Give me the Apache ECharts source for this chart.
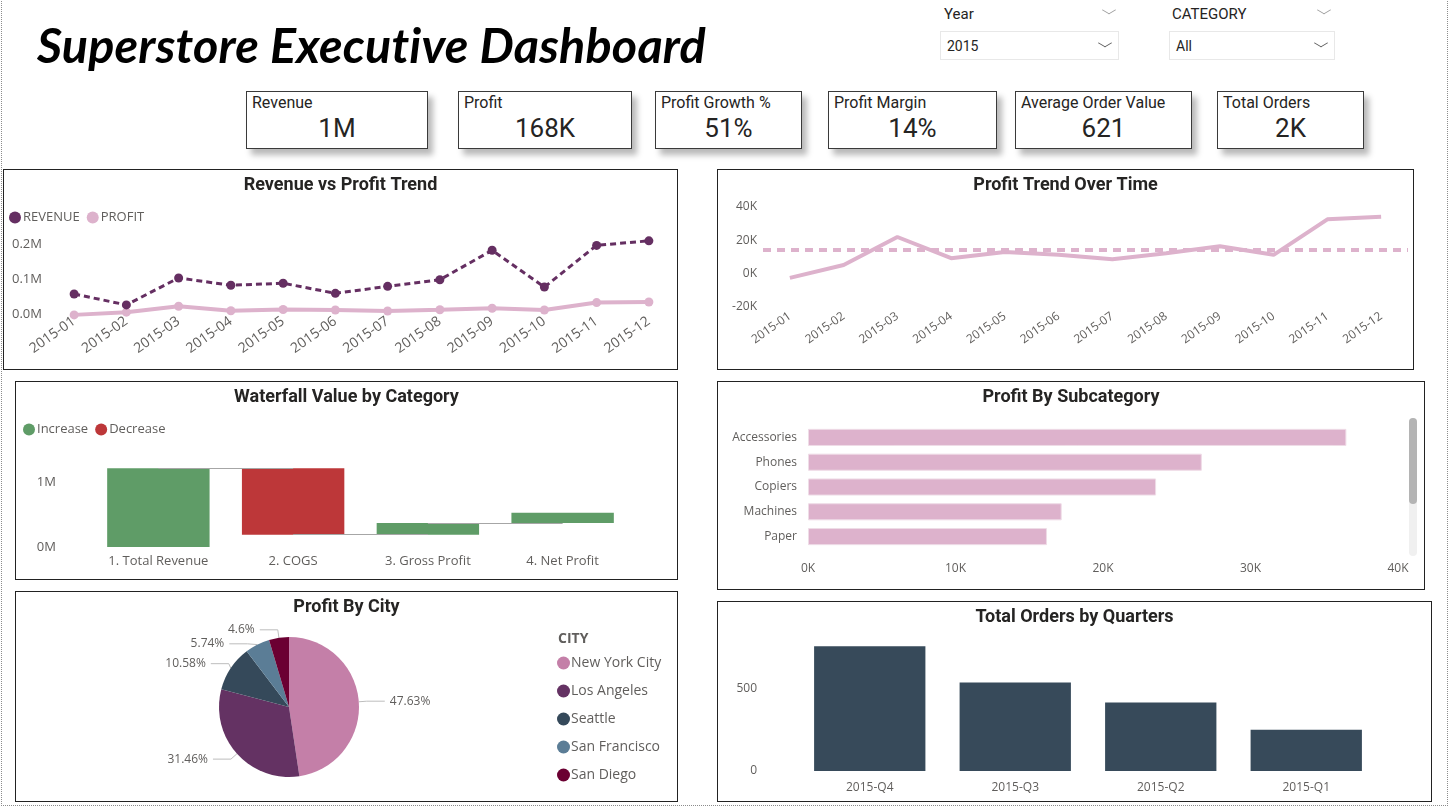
<!DOCTYPE html>
<html>
<head>
<meta charset="utf-8">
<title>Superstore Executive Dashboard</title>
<script src="https://cdn.jsdelivr.net/npm/echarts@6/dist/echarts.min.js"></script>
<style>
    *{margin:0;padding:0;box-sizing:border-box;}
    body{width:1449px;height:808px;overflow:hidden;background:#fff;position:relative;font-family:'Roboto',sans-serif;color:#252423;}
    .page{position:absolute;left:1px;top:-2px;width:1447px;height:808px;border:1px dotted #8c8c8c;}
    h1{position:absolute;left:37px;top:15px;font:italic bold 48.5px 'Lato',sans-serif;color:#000;white-space:nowrap;letter-spacing:0.2px;}
    .card{position:absolute;top:91px;height:58px;border:1px solid #3a3a3a;background:#fff;box-shadow:5px 6px 6px rgba(0,0,0,.28);}
    .card .lbl{position:absolute;left:5px;top:1px;font-size:16px;white-space:nowrap;}
    .card .val{position:absolute;left:0;right:0;top:21px;text-align:center;font-size:26px;}
    .slbl{position:absolute;top:5px;font-size:15px;}
    .sbox{position:absolute;top:31px;height:29px;border:1px solid #e8e8e8;font-size:14px;padding:6px 0 0 6px;}
    .chev{position:absolute;width:10px;height:10px;border-right:1.2px solid #555;border-bottom:1.2px solid #555;transform:scaleY(.6) rotate(45deg);}
    .chev.light{border-color:#9a9a9a;}
    .panel{position:absolute;border:1.5px solid #222;background:#fff;}
    .chart{position:absolute;left:0;top:0;right:0;bottom:0;}
    .track{position:absolute;left:1409px;top:418px;width:8px;height:138px;background:#f0f0f0;border-radius:4px;}
    .thumb{position:absolute;left:1409px;top:418px;width:8px;height:86px;background:#b4b4b4;border-radius:4px;}
</style>
</head>
<body>
<div class="page"></div>
<h1>Superstore Executive Dashboard</h1>

<div class="slbl" style="left:944px">Year</div>
<div class="chev light" style="left:1104px;top:5px"></div>
<div class="sbox" style="left:940px;width:179px">2015</div>
<div class="chev" style="left:1100px;top:38px"></div>
<div class="slbl" style="left:1172px">CATEGORY</div>
<div class="chev light" style="left:1319px;top:5px"></div>
<div class="sbox" style="left:1169px;width:166px">All</div>
<div class="chev" style="left:1316px;top:38px"></div>

<div id="cards"></div>

<div class="panel" style="left:3px;top:169px;width:675px;height:201px"><div class="chart" id="trend"></div></div>
<div class="panel" style="left:717px;top:169px;width:697px;height:201px"><div class="chart" id="profitTrend"></div></div>
<div class="panel" style="left:15px;top:381px;width:663px;height:199px"><div class="chart" id="waterfall"></div></div>
<div class="panel" style="left:717px;top:381px;width:708px;height:209px"><div class="chart" id="subcat"></div></div>
<div class="panel" style="left:15px;top:591px;width:663px;height:211px"><div class="chart" id="city"></div></div>
<div class="panel" style="left:717px;top:601px;width:715px;height:201px"><div class="chart" id="quarters"></div></div>
<div class="track"></div>
<div class="thumb"></div>

<script>
    // ---- data ----
    let kpiNames = ['Revenue', 'Profit', 'Profit Growth %', 'Profit Margin', 'Average Order Value', 'Total Orders'];
    let kpiValues = ['1M', '168K', '51%', '14%', '621', '2K'];

    let months = ['2015-01', '2015-02', '2015-03', '2015-04', '2015-05', '2015-06',
        '2015-07', '2015-08', '2015-09', '2015-10', '2015-11', '2015-12'];
    let revenueK = [57, 26, 103, 82, 88, 59, 79, 98, 182, 77, 196, 209];
    let profitK = [-2.5, 5.2, 22, 9.3, 13, 11.3, 8.7, 12.2, 16.5, 11.3, 32.6, 34.2];

    let steps = ['1. Total Revenue', '2. COGS', '3. Gross Profit', '4. Net Profit'];
    let stepChangeM = [1.22, -1.03, 0.18, 0.16];

    let subcategories = ['Accessories', 'Phones', 'Copiers', 'Machines', 'Paper'];
    let subcategoryProfitK = [36.5, 26.7, 23.6, 17.2, 16.2];

    let cities = ['New York City', 'Los Angeles', 'Seattle', 'San Francisco', 'San Diego'];
    let cityShare = [47.63, 31.46, 10.58, 5.74, 4.6];

    let quarters = ['2015-Q4', '2015-Q3', '2015-Q2', '2015-Q1'];
    let quarterOrders = [756, 537, 415, 250];

    // ---- kpi cards ----
    let cardLayout = [[246, 182], [458, 174], [655, 147], [828, 169], [1015, 177], [1217, 147]];
    let cardsHtml = '';
    kpiNames.forEach((name, i) => {
        cardsHtml += `<div class="card" style="left:${cardLayout[i][0]}px;width:${cardLayout[i][1]}px">
            <div class="lbl">${name}</div><div class="val">${kpiValues[i]}</div></div>`;
    });
    document.getElementById('cards').innerHTML = cardsHtml;

    // ---- shared styles ----
    const grey = '#605E5C';
    const pink = '#DDB2CC';
    const titleStyle = {fontFamily: 'Roboto', fontWeight: 'bold', fontSize: 18, color: '#252423'};
    const axisText = {color: grey, fontSize: 12, fontFamily: 'Open Sans'};
    function title(text) {
        return {text, left: 'center', top: 1, textStyle: titleStyle};
    }

    // Revenue vs Profit Trend
    let trend = echarts.init(document.getElementById('trend'));
    trend.setOption({
        animation: false,
        textStyle: {fontFamily: 'Open Sans'},
        title: title('Revenue vs Profit Trend'),
        legend: {
            left: 0, top: 36, icon: 'circle', itemWidth: 12, itemHeight: 12, itemGap: 7,
            textStyle: {color: grey, fontSize: 13, fontFamily: 'Open Sans', padding: [0, 0, 0, -3]},
            data: ['REVENUE', 'PROFIT']
        },
        grid: {left: 44, right: 2, top: 67, bottom: 55},
        xAxis: {
            type: 'category', data: months,
            axisLine: {show: false}, axisTick: {show: false},
            axisLabel: Object.assign({}, axisText, {rotate: 35, margin: 6, fontSize: 14})
        },
        yAxis: {
            type: 'value', min: 0, max: 220, interval: 100,
            splitLine: {show: false},
            axisLabel: Object.assign({}, axisText, {
                margin: 6, fontSize: 13,
                formatter: v => v % 100 === 0 ? (v / 1000).toFixed(1) + 'M' : ''
            })
        },
        series: [
            {
                name: 'PROFIT', type: 'line', data: profitK, clip: false,
                symbol: 'circle', symbolSize: 9,
                itemStyle: {color: pink},
                lineStyle: {color: pink, width: 4}
            },
            {
                name: 'REVENUE', type: 'line', data: revenueK, clip: false,
                symbol: 'circle', symbolSize: 9,
                itemStyle: {color: '#652F62'},
                lineStyle: {color: '#652F62', width: 3, type: [6, 4]}
            }
        ]
    });

    // Profit Trend Over Time
    let profitTrend = echarts.init(document.getElementById('profitTrend'));
    profitTrend.setOption({
        animation: false,
        title: title('Profit Trend Over Time'),
        grid: {left: 45, right: 5, top: 37, bottom: 62},
        xAxis: {
            type: 'category', data: months,
            axisLine: {show: false}, axisTick: {show: false},
            axisLabel: Object.assign({}, axisText, {rotate: 35, margin: 8})
        },
        yAxis: {
            type: 'value', min: -20, max: 40, interval: 20,
            splitLine: {show: false},
            axisLabel: Object.assign({}, axisText, {margin: 6, formatter: v => v + 'K'})
        },
        series: [{
            type: 'line', data: profitK, symbol: 'none',
            lineStyle: {color: pink, width: 4},
            markLine: {
                silent: true, symbol: 'none',
                label: {show: false},
                lineStyle: {color: pink, width: 4, type: [8, 6]},
                data: [{type: 'average'}]
            }
        }]
    });

    // Waterfall
    let base = [], inc = [], dec = [], levels = [];
    let cum = 0;
    stepChangeM.forEach(c => {
        if (c >= 0) {
            base.push(cum); inc.push(c); dec.push('-');
            cum += c;
        } else {
            cum += c;
            base.push(cum); inc.push('-'); dec.push(-c);
        }
        levels.push(cum);
    });
    let connectors = [];
    for (let i = 0; i < steps.length - 1; i++) {
        connectors.push([{coord: [i, levels[i]]}, {coord: [i + 1, levels[i]]}]);
    }
    let waterfall = echarts.init(document.getElementById('waterfall'));
    waterfall.setOption({
        animation: false,
        title: title('Waterfall Value by Category'),
        legend: {
            left: 2, top: 36, icon: 'circle', itemWidth: 12, itemHeight: 12, itemGap: 7,
            textStyle: {color: grey, fontSize: 13, fontFamily: 'Open Sans', padding: [0, 0, 0, -3]},
            data: ['Increase', 'Decrease']
        },
        grid: {left: 75, right: 47, top: 81, bottom: 32},
        xAxis: {
            type: 'category', data: steps,
            axisLine: {show: false}, axisTick: {show: false},
            axisLabel: Object.assign({}, axisText, {margin: 8, fontSize: 13})
        },
        yAxis: {
            type: 'value', min: 0, max: 1.3, interval: 1,
            splitLine: {show: false},
            axisLabel: Object.assign({}, axisText, {margin: 35, fontSize: 13, formatter: v => v % 1 === 0 ? v + 'M' : ''})
        },
        series: [
            {
                name: 'base', type: 'bar', stack: 'w', data: base, barWidth: '76%',
                itemStyle: {color: 'transparent'}, silent: true,
                markLine: {
                    silent: true, symbol: 'none', label: {show: false},
                    lineStyle: {color: '#a6a6a6', width: 1, type: 'solid'},
                    data: connectors
                }
            },
            {name: 'Increase', type: 'bar', stack: 'w', data: inc, itemStyle: {color: '#5F9C67'}},
            {name: 'Decrease', type: 'bar', stack: 'w', data: dec, itemStyle: {color: '#BD3739'}}
        ]
    });

    // Profit By Subcategory
    let subcat = echarts.init(document.getElementById('subcat'));
    subcat.setOption({
        animation: false,
        title: title('Profit By Subcategory'),
        grid: {left: 90, right: 26, top: 43, bottom: 40},
        xAxis: {
            type: 'value', min: 0, max: 40, interval: 10,
            splitLine: {show: false},
            axisLabel: Object.assign({}, axisText, {margin: 14, formatter: v => v + 'K'})
        },
        yAxis: {
            type: 'category', data: subcategories, inverse: true,
            axisLine: {show: false}, axisTick: {show: false},
            axisLabel: Object.assign({}, axisText, {margin: 11})
        },
        series: [{
            type: 'bar', data: subcategoryProfitK, barCategoryGap: '31%',
            itemStyle: {color: pink, borderColor: '#EFDCE7', borderWidth: 1}
        }]
    });

    // Profit By City
    let cityColors = ['#C47FA8', '#643263', '#35495A', '#5B7D96', '#6B0032'];
    let city = echarts.init(document.getElementById('city'));
    city.setOption({
        animation: false,
        title: [
            title('Profit By City'),
            {text: 'CITY', left: 537, top: 35, textStyle: {fontFamily: 'Open Sans', fontWeight: 'bold', fontSize: 14, color: grey}}
        ],
        legend: {
            orient: 'vertical', left: 536, top: 59, icon: 'circle',
            itemWidth: 13, itemHeight: 13, itemGap: 14,
            textStyle: {color: grey, fontSize: 14, fontFamily: 'Open Sans', padding: [0, 0, 0, -4]},
            data: cities
        },
        series: [{
            type: 'pie', center: [273, 115], radius: 70,
            startAngle: 90, clockwise: true,
            data: cities.map((name, i) => ({name, value: cityShare[i], itemStyle: {color: cityColors[i]}})),
            label: {
                color: grey, fontSize: 12, fontFamily: 'Open Sans',
                formatter: p => p.value + '%'
            },
            labelLine: {length: 8, length2: 18, lineStyle: {color: '#bdbdbd', width: 1}}
        }]
    });

    // Total Orders by Quarters
    let quartersChart = echarts.init(document.getElementById('quarters'));
    quartersChart.setOption({
        animation: false,
        title: title('Total Orders by Quarters'),
        grid: {left: 79, right: 52, top: 37, bottom: 30},
        xAxis: {
            type: 'category', data: quarters,
            axisLine: {show: false}, axisTick: {show: false},
            axisLabel: Object.assign({}, axisText, {margin: 11})
        },
        yAxis: {
            type: 'value', min: 0, max: 800, interval: 500,
            splitLine: {show: false},
            axisLabel: Object.assign({}, axisText, {margin: 40, formatter: v => v % 500 === 0 ? v : ''})
        },
        series: [{
            type: 'bar', data: quarterOrders, barWidth: '76.5%',
            itemStyle: {color: '#374A5A'}
        }]
    });
</script>
</body>
</html>
